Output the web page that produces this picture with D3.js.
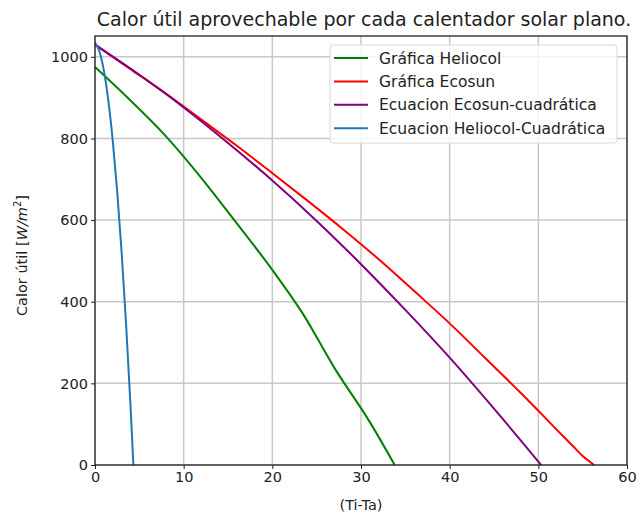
<!DOCTYPE html>
<html>
<head>
<meta charset="utf-8">
<script src="https://cdn.jsdelivr.net/npm/d3@7"></script>
<style>
  body { margin: 0; background: #fff; }
  text { font-family: "DejaVu Sans", sans-serif; fill: #222; }
</style>
</head>
<body>
<div id="chart"></div>
<script>
// values
var heliocolX = [0, 4, 7.8, 12, 15.6, 20, 23.4, 27, 31, 33.8];
var heliocolY = [975, 893, 810, 703, 603, 478, 372, 238, 105, 0];

var ecosunX = [0, 4, 8, 12, 16, 20, 24, 28, 32, 36, 40, 44, 48, 50, 52, 54, 55, 56.3];
var ecosunY = [1030, 970, 910, 846, 782, 715, 647, 577, 504, 426, 347, 262, 177, 133, 88, 44, 22, 0];

var ecosunQuadX = [0, 5, 10, 15, 20, 25, 30, 35, 40, 45, 50, 50.3];
var ecosunQuadY = [1030, 956, 876, 789, 697, 598, 492, 380, 263, 138, 8, 0];

var heliocolQuadX = [0, 0.5, 1, 1.5, 2, 2.5, 3, 3.5, 4, 4.33];
var heliocolQuadY = [1035, 1013, 966, 893, 795, 671, 522, 347, 147, 0];

var xTicks = [0, 10, 20, 30, 40, 50, 60];
var yTicks = [0, 200, 400, 600, 800, 1000];

var seriesNames = ['Gráfica Heliocol', 'Gráfica Ecosun', 'Ecuacion Ecosun-cuadrática', 'Ecuacion Heliocol-Cuadrática'];
var seriesColors = ['green', 'red', 'purple', '#1f77b4'];

var series = [
  {name: seriesNames[0], color: seriesColors[0], xs: heliocolX, ys: heliocolY},
  {name: seriesNames[1], color: seriesColors[1], xs: ecosunX, ys: ecosunY},
  {name: seriesNames[2], color: seriesColors[2], xs: ecosunQuadX, ys: ecosunQuadY},
  {name: seriesNames[3], color: seriesColors[3], xs: heliocolQuadX, ys: heliocolQuadY}
];

var width = 642, height = 513;
var margin = {top: 36, right: 15, bottom: 48, left: 95};

var svg = d3.select('#chart').append('svg')
  .attr('width', width)
  .attr('height', height);

var x = d3.scaleLinear().domain([0, 60]).range([margin.left, width - margin.right]);
var y = d3.scaleLinear().domain([0, 1051]).range([height - margin.bottom, margin.top]);

// grid
svg.append('g')
  .selectAll('line.gx')
  .data(xTicks)
  .enter().append('line')
  .attr('x1', d => x(d)).attr('x2', d => x(d))
  .attr('y1', y(0)).attr('y2', y(1051))
  .attr('stroke', '#c8c8c8').attr('stroke-width', 1.5);

svg.append('g')
  .selectAll('line.gy')
  .data(yTicks)
  .enter().append('line')
  .attr('x1', x(0)).attr('x2', x(60))
  .attr('y1', d => y(d)).attr('y2', d => y(d))
  .attr('stroke', '#c8c8c8').attr('stroke-width', 1.5);

var line = d3.line()
  .curve(d3.curveMonotoneX)
  .x(d => x(d[0]))
  .y(d => y(d[1]));

svg.append('g')
  .selectAll('path')
  .data(series)
  .enter().append('path')
  .attr('d', s => line(s.xs.map((v, i) => [v, s.ys[i]])))
  .attr('fill', 'none')
  .attr('stroke', s => s.color)
  .attr('stroke-width', 2);

// axes
var xAxis = svg.append('g')
  .attr('transform', 'translate(0,' + y(0) + ')')
  .call(d3.axisBottom(x).tickValues(xTicks).tickFormat(d3.format('d')).tickSize(4).tickPadding(3));
var yAxis = svg.append('g')
  .attr('transform', 'translate(' + x(0) + ',0)')
  .call(d3.axisLeft(y).tickValues(yTicks).tickFormat(d3.format('d')).tickSize(4).tickPadding(3));

[xAxis, yAxis].forEach(function(a) {
  a.selectAll('text').style('font-size', '14.5px').attr('fill', '#222');
  a.selectAll('line').attr('stroke', '#222');
  a.select('.domain').remove();
});

// frame
svg.append('rect')
  .attr('x', x(0)).attr('y', y(1051))
  .attr('width', x(60) - x(0)).attr('height', y(0) - y(1051))
  .attr('fill', 'none').attr('stroke', '#222').attr('stroke-width', 1.3);

// title
svg.append('text')
  .attr('x', 364)
  .attr('y', 26)
  .attr('text-anchor', 'middle')
  .style('font-size', '19px')
  .text('Calor útil aprovechable por cada calentador solar plano.');

// x label
svg.append('text')
  .attr('x', (x(0) + x(60)) / 2)
  .attr('y', 510)
  .attr('text-anchor', 'middle')
  .style('font-size', '14.5px')
  .text('(Ti-Ta)');

// y label
var yl = svg.append('text')
  .attr('transform', 'translate(27,' + ((y(0) + y(1051)) / 2 + 5) + ') rotate(-90)')
  .attr('text-anchor', 'middle')
  .style('font-size', '14.5px');
yl.append('tspan').text('Calor útil [');
yl.append('tspan').style('font-style', 'italic').text('W/m');
yl.append('tspan').attr('dy', -6).style('font-size', '10px').text('2');
yl.append('tspan').attr('dy', 6).text(']');

// legend
var legend = svg.append('g').attr('transform', 'translate(330,45)');
legend.append('rect')
  .attr('width', 287).attr('height', 98)
  .attr('rx', 3)
  .attr('fill', 'rgba(255,255,255,0.8)')
  .attr('stroke', '#d8d8d8');

var rows = legend.selectAll('g.row')
  .data(series)
  .enter().append('g')
  .attr('transform', (d, i) => 'translate(0,' + (13 + i * 23.4) + ')');
rows.append('line')
  .attr('x1', 4).attr('x2', 38)
  .attr('stroke', d => d.color).attr('stroke-width', 2);
rows.append('text')
  .attr('x', 49).attr('y', 5.5)
  .style('font-size', '15.5px')
  .text(d => d.name);
</script>
</body>
</html>
